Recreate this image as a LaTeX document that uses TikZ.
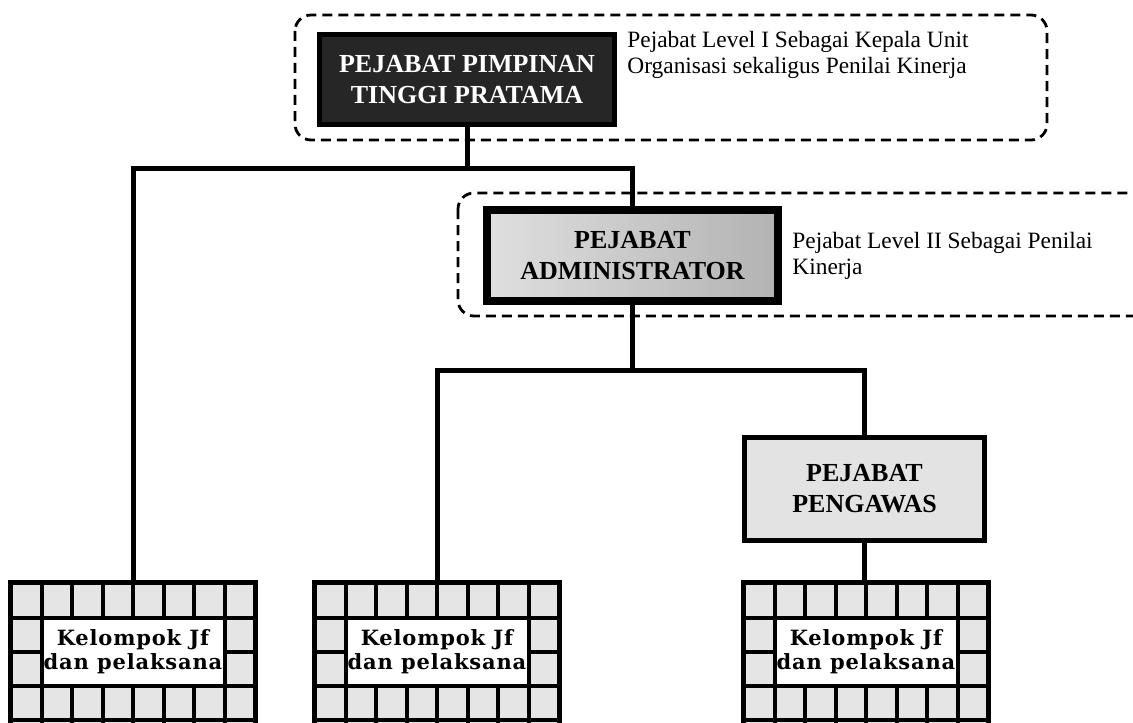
\documentclass[tikz,border=0pt]{standalone}
\usepackage{fontspec}
\setmainfont{Liberation Serif}
\newfontfamily\slabfont[LetterSpace=4]{DejaVu Serif}
\newcommand{\hdfont}{\fontsize{13}{15.5}\selectfont\bfseries}
\usetikzlibrary{positioning}

\begin{document}
\begin{tikzpicture}[x=0.5pt, y=-0.5pt,
		boss/.style = {draw, line width=2.5pt, fill=black!85, text=white, align=center, font=\hdfont, minimum width=147.5pt, minimum height=45pt},
		admin/.style = {draw, line width=4pt, left color=gray!25, right color=gray!60, align=center, font=\hdfont, minimum width=145.5pt, minimum height=45.5pt},
		super/.style = {draw, line width=2.5pt, fill=gray!22, align=center, font=\hdfont, minimum width=120pt, minimum height=51.5pt},
		note/.style = {align=left, inner sep=0pt, font=\fontsize{11.7}{13}\selectfont},
		group/.style = {line width=1.4pt, dash pattern=on 5pt off 3pt, rounded corners=8pt},
		jfframe/.style = {fill=black, inner sep=0pt, minimum width=125pt, minimum height=85pt},
		jfbox/.style = {fill=white, align=center, inner sep=0pt, minimum width=89.5pt, minimum height=32pt, font=\slabfont\bfseries\fontsize{10.5}{12}\selectfont},
		cell/.style = {fill=gray!20},
		link/.style = {line width=2.5pt}]
		\clip (0,0) rectangle (1133,722);
		%% GROUPS
		\draw[group] (295,15) rectangle (1047,140); % Level I
		\draw[group] (458,193) rectangle (1160,316); % Level II, open to the right
		%% NODES
		% Head
		\node[boss] (boss) at (467,79.5) {PEJABAT PIMPINAN\\TINGGI PRATAMA};
		\node[note, anchor=west] (bossnote) at (627,55) {Pejabat Level I Sebagai Kepala Unit\\Organisasi sekaligus Penilai Kinerja};
		% Administrator
		\node[admin] (adm) at (632.5,255.5) {PEJABAT\\ADMINISTRATOR};
		\node[note, right=5pt of adm] (admnote) {Pejabat Level II Sebagai Penilai\\Kinerja};
		% Pengawas
		\node[super] (peng) at (864.5,489) {PEJABAT\\PENGAWAS};
		% Kelompok Jf boxes
		\foreach \bx/\nm in {8/jf1, 312/jf2, 741/jf3} {
			\node[jfframe, anchor=north west] (\nm) at (\bx,580) {};
			\foreach \c in {0,...,7} {
				\fill[cell] ({\bx+5+\c*30.5},585) rectangle ++(26.5,31);
				\fill[cell] ({\bx+5+\c*30.5},688) rectangle ++(26.5,30);
				\fill[cell] ({\bx+5+\c*30.5},722) rectangle ++(26.5,30);
			}
			\foreach \c in {0,7} {
				\fill[cell] ({\bx+5+\c*30.5},620) rectangle ++(26.5,30);
				\fill[cell] ({\bx+5+\c*30.5},654) rectangle ++(26.5,30);
			}
			\node[jfbox] (\nm-text) at ({\bx+125},652) {Kelompok Jf\\dan pelaksana};
		}
		%% LINKS
		\coordinate (bar1) at (0,168);
		\coordinate (bar2) at (0,370);
		\draw[link] (boss.south) -- (boss.south |- bar1);
		\draw[link] (jf1.north) |- (boss.south |- bar1) -| (adm.north);
		\draw[link] (adm.south) -- (adm.south |- bar2);
		\draw[link] (jf2.north) |- (adm.south |- bar2) -| (peng.north);
		\draw[link] (peng.south) -- (peng.south |- jf3.north);
	\end{tikzpicture}
\end{document}
